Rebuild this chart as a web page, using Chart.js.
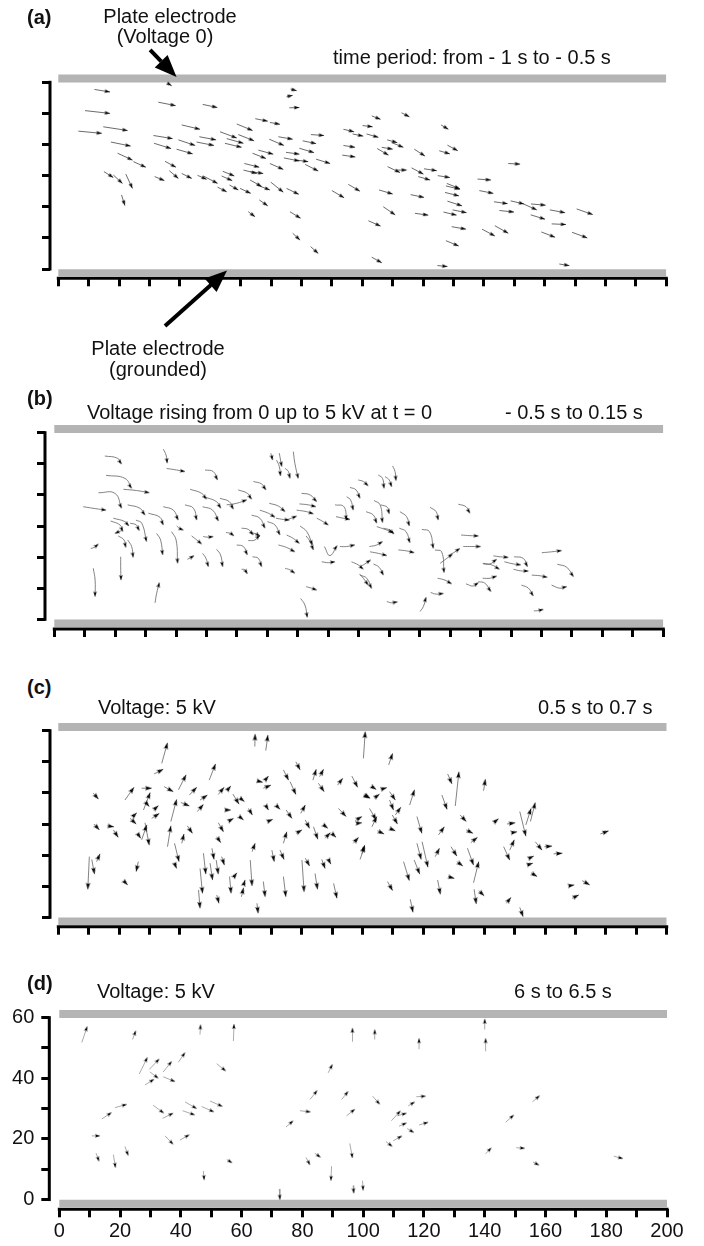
<!DOCTYPE html>
<html>
<head>
<meta charset="utf-8">
<script src="https://cdn.jsdelivr.net/npm/chart.js@4.4.1/dist/chart.umd.min.js"></script>
<style>
  html, body { margin: 0; padding: 0; background: #fff; }
  #page { position: relative; width: 704px; height: 1246px; overflow: hidden;
          font-family: "Liberation Sans", Arial, sans-serif; }
  canvas { position: absolute; left: 0; }
  .lbl { position: absolute; font-size: 20px; line-height: 20px; color: #111; white-space: nowrap; z-index: 2; }
  .tag { font-weight: bold; }
  .mid { transform: translateX(-50%); }
</style>
</head>
<body>
<div id="page">
  <canvas id="chartA" width="704" height="392" style="top:0px"></canvas>
  <canvas id="chartB" width="704" height="250" style="top:395px"></canvas>
  <canvas id="chartC" width="704" height="240" style="top:700px"></canvas>
  <canvas id="chartD" width="704" height="261" style="top:985px"></canvas>

  <div class="lbl tag" style="left:27px;top:7px">(a)</div>
  <div class="lbl mid" style="left:170px;top:6px">Plate electrode</div>
  <div class="lbl mid" style="left:165px;top:25.5px">(Voltage 0)</div>
  <div class="lbl" style="left:333px;top:47.2px">time period: from - 1 s to - 0.5 s</div>
  <div class="lbl mid" style="left:158px;top:337.6px">Plate electrode</div>
  <div class="lbl mid" style="left:158px;top:359px">(grounded)</div>

  <div class="lbl tag" style="left:27px;top:388px">(b)</div>
  <div class="lbl" style="left:87px;top:402.4px">Voltage rising from 0 up to 5 kV at t = 0</div>
  <div class="lbl" style="left:505px;top:402.4px">- 0.5 s to 0.15 s</div>

  <div class="lbl tag" style="left:27px;top:677px">(c)</div>
  <div class="lbl" style="left:98px;top:697.4px">Voltage: 5 kV</div>
  <div class="lbl" style="left:538px;top:696.6px">0.5 s to 0.7 s</div>

  <div class="lbl tag" style="left:27px;top:973px">(d)</div>
  <div class="lbl" style="left:97px;top:981px">Voltage: 5 kV</div>
  <div class="lbl" style="left:514px;top:981px">6 s to 6.5 s</div>
</div>
<script>
// axis labels (only panel d shows numbers)
const xTickLabels = [0, 20, 40, 60, 80, 100, 120, 140, 160, 180, 200];
const yTickLabels = [0, 20, 40, 60];

// plate electrodes (y position, data units)
const electrodeTop = 61.2;
const electrodeBottom = -1.3;

// callouts of panel a: [tailX, tailY, tipX, tipY]
const calloutArrows = [
  [30.2, 70.4, 38.9, 61.7],
  [35.1, -18.3, 55.5, -0.5]
];

// (a) -1 s to -0.5 s : [x0, y0, x1, y1]
const panelA = [
  [11.9,57.7,17.0,56.9],[35.9,59.7,37.3,58.9],[8.8,50.9,17.0,50.0],[32.9,53.6,38.6,52.5],
  [47.5,52.9,52.3,51.9],[76.4,57.8,78.4,57.3],[75.1,55.4,77.1,55.8],[76.0,51.8,79.3,51.9],
  [6.6,44.3,14.3,43.6],[14.8,45.7,22.8,44.5],[40.6,46.3,46.6,44.9],[58.7,46.6,63.9,44.5],
  [64.8,48.3,68.9,47.5],[69.6,47.1,72.9,46.5],[31.3,42.9,37.6,41.9],[39.5,41.5,45.0,39.7],
  [46.4,42.5,51.9,41.5],[53.2,44.1,58.7,42.1],[55.4,41.9,60.9,40.4],[54.8,40.4,60.3,39.1],
  [59.2,43.2,64.4,41.2],[17.3,40.8,23.8,39.5],[31.5,40.4,37.1,38.7],[45.5,40.8,51.2,39.7],
  [38.9,38.5,44.2,37.0],[19.5,37.2,24.4,35.0],[24.7,34.5,28.8,32.7],[35.1,34.6,38.7,32.7],
  [69.4,41.7,74.2,39.7],[72.4,42.5,77.1,41.7],[80.4,41.2,84.8,40.3],[83.1,43.2,87.4,42.9],
  [93.8,44.9,97.3,44.1],[96.8,43.4,100.3,42.7],[93.8,39.7,97.6,39.1],[93.4,36.6,97.7,36.0],
  [65.8,38.2,70.7,36.9],[63.9,37.2,68.3,35.5],[74.9,37.5,79.3,36.9],[74.2,35.7,79.3,34.7],
  [79.3,38.8,84.1,37.4],[78.4,35.0,82.2,34.5],[81.2,33.6,85.5,31.5],[84.8,35.3,89.4,33.9],
  [69.6,33.9,74.0,32.0],[61.2,33.9,66.1,32.7],[60.9,31.8,65.3,30.7],[63.1,31.3,67.4,30.7],
  [15.0,31.3,18.1,29.4],[18.1,30.2,21.1,27.5],[22.2,30.5,24.4,25.9],[20.8,23.8,21.9,20.4],
  [31.7,29.7,34.9,28.4],[36.5,31.6,39.5,29.1],[40.6,30.7,43.9,29.1],[45.8,30.1,48.8,28.8],
  [47.7,29.9,52.4,27.5],[54.1,31.4,57.9,29.9],[53.7,29.9,57.2,28.4],[52.4,26.3,55.4,24.8],
  [56.3,27.0,59.2,25.4],[59.8,25.9,63.3,24.3],[63.1,28.6,66.9,26.5],[65.3,27.0,69.6,25.4],
  [69.9,27.9,74.0,24.7],[75.1,25.9,79.1,24.0],[66.1,22.2,68.9,20.3],[62.5,18.4,64.7,16.8],
  [76.2,18.4,79.7,16.3],[77.1,11.5,79.5,9.3],[83.0,7.2,85.5,5.0],[90.0,25.2,94.0,22.9],
  [95.4,27.2,99.2,25.0],
  [103.1,49.2,106.0,48.1],[112.9,50.2,115.5,48.9],[100.1,46.1,103.4,45.7],[101.4,43.4,105.3,42.3],
  [125.9,46.3,128.3,44.9],[108.2,41.5,111.5,40.6],[109.7,40.6,113.5,39.1],[106.4,39.1,110.0,38.5],
  [104.9,38.7,108.6,36.6],[117.1,38.5,120.6,36.3],[125.3,38.0,128.8,37.0],[128.0,39.8,131.4,38.0],
  [148.0,33.9,151.9,33.7],[108.3,32.9,112.4,31.0],[111.3,31.8,114.6,31.8],[116.2,32.5,120.1,30.5],
  [120.3,32.2,124.5,31.6],[118.4,29.7,122.3,28.6],[124.8,30.0,128.8,29.4],[127.8,27.5,132.1,25.8],
  [127.5,26.7,132.1,25.6],[137.9,28.9,142.3,28.6],[105.5,25.4,110.0,24.1],[115.9,23.9,120.3,23.0],
  [127.2,24.6,131.8,23.5],[138.5,25.2,143.1,24.3],[128.0,21.8,132.8,20.3],[129.7,19.0,134.3,18.1],
  [126.7,18.3,131.0,17.3],[117.3,17.9,121.7,17.3],[106.9,20.0,110.8,17.4],[143.3,21.6,147.8,21.0],
  [145.1,18.8,149.9,18.3],[148.8,21.9,153.2,20.9],[153.0,20.9,157.4,19.0],[155.5,20.9,160.3,20.5],
  [155.4,17.4,160.1,16.0],[161.7,19.0,166.7,18.1],[170.5,19.3,175.8,17.5],[162.3,14.5,167.0,14.3],
  [129.4,13.6,134.1,12.8],[102.0,15.5,106.0,13.8],[139.4,12.8,143.6,10.6],[143.6,13.9,148.0,11.5],
  [158.9,11.9,163.4,10.2],[169.0,11.8,174.0,10.0],[127.5,9.1,131.7,7.4],[103.1,3.8,106.4,2.0],
  [124.7,1.1,128.0,0.8],[164.8,1.6,168.1,1.1]
];

// (b) -0.5 s to 0.15 s : curved tracks [x0, y0, xBend, yBend, x1, y1]
const panelB = [
  [16.6,52.5,20.7,51.8,22.1,49.9],[35.8,54.7,36.7,52.8,37.1,50.2],[36.9,48.5,40.2,48.0,42.9,47.5],
  [49.5,48.0,52.2,47.5,53.6,44.8],[17.0,46.3,23.2,45.3,25.4,42.1],[22.7,41.8,27.0,41.4,31.2,40.7],
  [14.5,40.7,19.9,40.5,22.1,35.7],[9.5,36.2,13.4,35.6,17.0,35.1],[24.1,36.8,28.1,35.7,29.8,33.5],
  [19.4,32.5,23.2,31.4,24.5,30.0],[18.5,31.6,21.6,30.3,22.5,28.2],[26.8,31.9,28.7,30.9,30.3,25.0],
  [24.9,30.9,27.0,30.3,27.9,28.5],[22.1,28.5,21.0,28.1,19.9,27.6],[21.0,26.8,22.9,25.5,23.5,23.1],
  [24.1,25.5,25.4,23.4,25.9,19.9],[30.9,34.1,34.7,32.8,35.8,30.3],[35.8,36.2,39.1,35.1,40.7,31.9],
  [33.6,27.6,34.9,25.5,35.6,20.7],[38.5,28.2,40.0,25.5,40.5,18.0],[40.2,30.0,41.3,29.1,42.4,28.7],
  [42.9,36.8,45.7,35.7,46.8,31.9],[44.6,41.8,48.4,40.5,50.0,38.6],[49.8,39.2,53.3,37.8,54.7,35.7],
  [48.7,36.2,52.0,35.1,53.9,31.6],[54.4,38.9,57.5,37.8,58.8,35.4],[60.4,41.6,63.4,40.5,64.8,38.6],
  [65.4,44.3,68.1,43.5,69.5,41.6],[56.6,36.8,59.9,37.3,63.2,38.4],[45.1,26.8,46.8,25.5,48.4,24.2],
  [48.9,26.6,50.6,26.4,52.2,26.6],[48.7,21.2,49.8,19.6,50.6,16.9],[53.3,22.5,54.6,20.7,55.3,16.9],
  [59.9,23.9,62.1,23.4,63.4,20.7],[61.5,16.1,62.6,15.9,63.4,14.6],[65.1,20.1,67.0,19.6,68.1,16.9],
  [56.4,27.9,58.0,27.6,59.0,26.8],[61.5,29.3,63.7,28.9,65.4,27.1],[64.3,27.9,66.5,27.4,67.5,26.6],
  [63.7,25.3,65.9,25.5,67.5,27.1],[64.8,33.5,67.5,32.5,69.2,29.3],[67.5,35.1,70.3,34.1,72.5,32.8],
  [71.1,53.4,71.4,52.3,71.7,51.2],[73.9,53.4,74.3,51.2,74.7,49.1],[73.0,51.2,73.9,49.1,74.3,46.1],
  [75.8,48.5,76.9,47.5,77.4,45.3],[78.5,53.9,79.0,50.2,80.1,45.3],[70.6,37.3,73.6,36.4,75.8,34.6],
  [72.8,32.5,75.2,32.1,77.2,31.9],[75.8,31.9,77.9,32.5,79.6,33.2],[70.0,31.4,72.5,30.3,74.1,27.1],
  [76.3,27.1,78.5,26.0,80.5,24.4],[80.7,30.0,82.9,28.2,84.8,23.9],[73.6,23.9,76.3,23.1,79.0,21.7],
  [75.8,16.4,77.4,15.9,79.0,14.8],[81.2,40.5,84.0,40.0,86.2,37.8],[80.5,37.1,83.4,36.8,85.9,36.2],
  [79.6,35.1,82.9,34.6,85.1,33.9],[82.7,26.8,84.0,25.0,85.1,22.3],[86.2,32.5,88.3,31.4,90.0,30.3],
  [88.7,23.4,90.5,20.5,92.9,23.7],[93.8,23.4,96.0,23.4,98.7,23.9],[87.8,18.5,90.0,18.2,92.2,18.5],
  [92.2,36.8,95.1,36.2,96.0,31.9],[96.0,39.4,97.3,38.4,98.2,35.1],[92.5,33.0,94.9,32.5,97.1,32.1],
  [97.1,42.4,99.1,41.6,100.4,38.9],[99.8,44.8,101.5,44.3,103.1,42.9],[97.6,18.5,99.8,17.5,101.5,16.1],
  [100.2,14.6,101.5,13.2,103.1,11.0],[12.0,22.8,13.1,23.1,14.5,24.2],[12.8,16.4,13.4,12.6,13.4,7.3],
  [21.8,20.1,21.8,16.9,21.9,12.6],[33.1,5.3,33.6,8.3,34.5,11.8],[43.7,19.3,44.8,19.8,45.9,20.5],
  [82.7,10.5,84.5,10.0,86.2,9.4],[80.9,6.7,82.3,4.6,83.1,0.6],
  [106.4,46.4,107.8,45.3,108.3,42.1],[108.6,45.9,110.0,44.8,110.8,42.6],[111.1,49.3,111.9,47.5,112.2,44.6],
  [105.0,38.2,107.0,36.8,107.8,31.1],[102.4,34.6,104.8,33.5,105.9,30.9],[107.2,36.8,109.4,36.0,110.0,33.9],
  [113.5,34.6,115.7,33.0,116.6,30.0],[123.4,36.0,125.4,34.6,126.1,31.9],[132.7,37.0,135.2,36.2,136.5,34.1],
  [113.3,29.3,115.5,28.2,116.8,24.6],[105.9,29.8,108.6,28.9,111.3,27.9],[108.1,29.3,110.2,28.7,111.6,27.4],
  [120.7,28.9,123.2,28.2,124.5,22.8],[125.0,22.3,127.2,21.7,128.0,15.0],[133.6,27.1,136.5,26.9,139.3,26.8],
  [134.3,23.4,137.1,23.4,140.0,23.4],[103.5,23.4,105.9,23.9,107.8,25.0],[103.7,21.7,106.4,21.2,109.2,20.5],
  [113.0,22.3,115.7,22.0,118.2,21.4],[129.7,20.7,131.6,21.7,133.2,22.8],[126.7,18.0,128.9,19.6,130.8,21.0],
  [100.4,16.9,102.0,17.8,103.9,19.1],[104.8,17.8,106.7,16.7,108.1,14.2],[100.4,14.2,102.6,13.2,104.2,9.9],
  [125.9,13.2,128.3,12.6,130.5,11.4],[135.2,11.4,137.6,10.7,139.3,11.8],[139.3,12.1,141.4,11.6,143.4,8.9],
  [123.6,8.6,125.4,8.1,127.8,8.3],[109.2,5.7,110.8,5.3,112.7,5.6],[120.1,2.5,121.2,4.1,122.1,7.1],
  [144.2,20.4,146.4,20.1,149.1,19.9],[140.9,17.8,143.1,17.8,145.3,19.3],[140.7,18.0,143.6,17.5,146.2,16.1],
  [147.8,18.5,150.8,17.8,153.2,17.5],[151.0,20.1,154.0,19.6,155.4,16.9],[150.8,16.1,153.0,15.6,155.7,15.5],
  [156.8,14.2,159.5,14.0,161.9,13.5],[140.7,13.2,143.1,13.2,145.3,13.9],[153.4,11.0,155.7,10.0,157.3,7.5],
  [160.1,21.4,163.3,21.7,166.6,22.1],[165.2,17.7,168.3,16.7,170.5,13.7],[163.3,11.0,166.1,10.0,168.3,10.5],
  [157.5,2.7,159.0,2.8,160.6,3.2]
];

// (c) 0.5 s to 0.7 s : [x0, y0, x1, y1]
const panelC = [
  [11.5,39.9,13.2,38.0],[34.0,49.5,35.9,56.1],[31.5,46.1,34.5,47.6],[64.6,54.9,64.7,58.9],
  [68.2,53.6,68.9,58.6],[100.3,51.1,100.9,59.7],[49.6,44.1,51.7,49.3],[39.5,41.0,42.0,45.8],
  [21.9,37.7,24.9,41.8],[27.4,41.5,30.7,41.5],[28.0,34.5,30.2,40.1],[34.8,42.0,37.8,40.4],
  [43.1,39.3,45.5,41.8],[46.6,37.7,49.0,39.3],[52.6,39.5,54.5,41.8],[55.4,40.7,56.7,42.2],
  [57.4,39.6,59.4,36.4],[59.8,38.3,61.2,37.2],[45.7,34.0,47.7,36.3],[37.0,30.8,38.9,37.9],
  [40.3,36.9,43.1,35.8],[65.3,43.9,67.2,43.4],[68.0,44.1,69.1,45.4],[67.4,41.5,69.9,42.5],
  [74.0,47.4,75.7,44.1],[76.2,43.6,78.1,39.5],[78.1,50.0,79.5,47.4],[83.7,44.1,84.8,47.6],
  [85.9,45.2,87.2,47.6],[85.5,43.1,87.4,40.4],[91.8,42.5,93.5,44.7],[96.5,45.4,98.4,41.8],
  [100.9,39.3,102.5,38.3],[24.5,32.4,25.8,33.6],[23.6,31.8,25.6,30.0],[28.5,37.2,29.9,35.6],
  [31.3,34.5,32.9,35.9],[30.7,31.8,33.2,33.4],[27.4,24.9,29.1,29.7],[28.5,30.4,29.9,23.2],
  [26.0,27.0,27.1,25.4],[11.7,30.0,13.5,28.1],[16.1,29.4,18.3,29.1],[18.1,28.1,19.7,25.7],
  [35.9,22.7,37.0,29.4],[40.6,23.8,41.3,26.8],[42.4,29.4,44.1,27.0],[38.2,23.8,39.7,17.9],
  [38.1,17.6,38.9,15.7],[11.0,18.6,11.9,13.9],[10.2,19.5,9.7,9.0],[12.6,17.9,13.7,20.4],
  [21.4,11.8,22.8,10.4],[26.3,17.9,25.6,14.7],[54.8,34.5,56.7,34.5],[56.3,31.1,57.6,31.8],
  [59.5,32.4,60.9,31.3],[62.5,35.0,63.8,32.9],[52.6,30.4,54.3,27.5],[52.1,25.9,53.4,24.0],
  [50.5,22.2,51.2,18.6],[53.7,19.5,54.6,16.8],[51.9,18.4,52.6,13.9],[49.9,17.4,50.7,12.0],
  [47.7,20.6,48.5,13.9],[46.6,15.7,47.4,7.7],[46.1,8.8,46.6,2.9],[52.1,7.2,52.8,4.5],
  [56.3,13.1,56.8,7.7],[57.8,13.1,58.7,14.3],[60.2,6.6,60.9,9.5],[60.9,10.4,61.4,12.0],
  [63.1,18.4,63.7,10.1],[63.7,21.1,64.7,23.8],[67.4,11.5,68.0,6.6],[65.3,4.5,65.7,1.3],
  [68.3,35.8,69.1,34.5],[68.8,30.8,70.5,31.5],[71.8,35.8,72.9,34.7],[74.9,34.5,76.8,31.8],
  [79.7,33.4,81.2,36.1],[81.2,31.3,82.6,28.6],[74.0,23.8,75.1,27.5],[78.2,27.0,80.1,28.1],
  [83.9,29.1,85.3,25.1],[87.2,29.7,88.6,28.6],[87.7,25.4,89.4,27.2],[89.9,27.0,91.3,25.7],
  [70.2,21.6,71.0,17.9],[72.9,21.6,74.2,18.6],[81.2,19.0,82.6,16.5],[80.1,18.4,80.8,8.2],
  [86.6,18.6,87.7,15.7],[88.8,18.6,89.6,17.1],[74.0,13.1,74.8,6.6],[84.4,14.1,85.2,9.0],
  [90.5,10.9,91.6,6.1],[92.1,35.0,94.6,32.4],[97.6,31.1,99.8,32.4],[98.1,30.2,99.8,30.4],
  [97.0,23.8,98.7,25.7],[99.2,18.6,100.7,22.9],
  [108.6,49.0,109.9,52.7],[130.5,35.8,131.7,46.8],[128.0,46.1,129.4,42.9],[139.8,40.7,140.4,44.4],
  [103.1,42.0,104.5,41.1],[106.0,41.1,108.0,41.7],[100.3,39.3,102.3,38.3],[103.8,38.3,105.6,39.6],
  [108.9,40.4,110.8,37.7],[108.9,37.7,110.2,34.5],[115.5,36.1,117.1,41.0],[110.8,32.9,112.6,35.4],
  [102.3,35.0,104.5,31.3],[103.1,29.1,104.7,32.4],[109.8,32.9,111.5,30.0],[104.9,27.8,107.1,26.8],
  [108.9,28.6,110.8,27.8],[99.8,20.4,100.7,23.2],[117.9,32.4,119.5,27.0],[125.0,26.5,126.9,29.1],
  [126.1,39.3,127.8,34.7],[132.1,32.9,134.1,30.8],[134.1,28.1,136.3,27.0],[135.6,24.0,137.8,25.7],
  [117.9,23.8,119.3,18.6],[119.6,24.3,121.5,16.1],[123.9,19.5,125.3,22.2],[129.1,22.7,131.0,19.7],
  [131.0,17.9,133.0,16.5],[134.5,22.2,136.5,16.8],[136.5,11.1,138.2,17.9],[128.1,13.1,130.2,12.5],
  [113.5,17.9,115.4,11.8],[117.0,18.4,118.8,13.9],[108.2,11.5,109.9,8.6],[124.7,12.0,125.6,7.4],
  [115.7,5.8,116.6,1.6],[136.7,9.0,137.4,4.3],[138.2,8.6,140.0,6.9],[147.3,4.5,148.8,6.4],
  [151.7,3.2,152.8,0.2],[143.1,30.4,144.7,31.7],[147.5,30.0,150.2,30.4],[149.1,27.2,150.8,27.5],
  [151.7,34.0,153.7,26.1],[153.7,29.7,155.4,35.0],[155.2,30.8,156.8,36.9],[148.4,21.6,149.9,24.9],
  [146.4,22.7,148.4,18.4],[154.1,16.8,156.0,17.4],[154.6,18.9,156.3,19.7],[155.4,14.3,157.4,13.1],
  [156.8,24.3,159.0,21.6],[159.8,22.7,162.3,22.9],[162.8,20.4,165.7,20.6],[167.8,10.1,169.6,10.4],
  [168.9,6.1,171.1,7.2],[172.2,11.8,174.7,10.4],[178.2,26.8,180.9,27.8]
];

// (d) 6 s to 6.5 s : [x0, y0, x1, y1]
const panelD = [
  [7.4,51.8,9.2,57.1],[24.1,52.8,25.2,55.7],[46.3,54.4,46.5,57.7],[57.3,52.3,57.5,57.9],
  [26.3,41.4,29.0,46.9],[29.6,42.9,32.9,46.4],[34.2,42.1,37.0,45.6],[39.2,45.3,41.4,48.5],
  [28.2,37.8,31.2,39.7],[29.8,42.1,32.6,40.0],[34.2,40.5,38.1,38.9],[51.8,44.8,54.8,42.4],
  [88.5,41.8,89.9,44.6],[82.5,33.0,84.9,36.0],[92.9,33.0,95.1,35.7],[94.5,27.6,97.3,29.8],
  [79.2,29.3,82.7,28.9],[74.6,23.9,77.0,26.0],[14.0,26.6,17.2,28.7],[18.3,30.3,22.2,31.4],
  [10.7,21.0,13.4,21.0],[30.9,31.1,34.4,28.5],[34.0,26.8,37.5,28.5],[41.4,32.2,45.2,30.0],
  [40.6,29.3,44.6,27.9],[46.8,30.7,50.9,28.9],[49.6,32.5,53.7,30.7],[34.8,21.0,37.5,18.2],
  [39.7,19.6,42.8,21.4],[12.1,15.3,13.1,12.6],[17.8,14.8,18.5,10.5],[21.6,17.5,22.7,14.5],
  [47.4,9.4,47.7,6.4],[55.1,13.2,56.9,12.1],[81.2,13.9,82.5,11.4],[84.1,15.3,86.0,13.9],
  [89.6,11.0,89.4,6.2],[95.6,18.5,96.5,13.7],[96.7,4.6,96.9,2.1],[99.8,6.2,100.0,3.0],
  [72.4,3.5,72.6,0.0],[96.4,52.1,96.5,56.6],
  [103.8,52.8,103.8,56.1],[118.4,49.6,118.4,53.2],[140.0,56.1,140.0,59.6],[140.3,48.9,140.3,53.2],
  [103.1,34.1,105.5,31.4],[117.5,33.9,120.6,34.1],[114.8,30.9,117.0,32.2],[109.3,26.0,112.3,29.3],
  [111.2,27.6,114.3,28.5],[111.8,24.2,114.3,25.3],[118.4,24.6,121.4,25.5],[114.5,23.4,116.7,22.1],
  [109.9,19.4,112.8,21.0],[107.5,19.1,109.6,17.5],[146.9,25.5,149.6,27.9],[155.7,32.2,158.1,34.3],
  [140.3,15.1,142.2,17.1],[150.4,17.1,153.2,16.9],[155.9,12.4,157.9,11.3],[182.5,14.3,185.5,13.5]
];

// page geometry of each panel (pixels)
const layouts = {
  A: { id: 'chartA', top: 0,   height: 392, axisX: 50,   x0: 58.3, x200: 666.3, y60: 82.3,   y0: 269,    xAxis: 278.3,  labels: false, head: [5.5, 1.8], track: 'rgba(70,70,70,0.8)',    tension: 0 },
  B: { id: 'chartB', top: 395, height: 250, axisX: 45,   x0: 54.3, x200: 663.3, y60: 432.7,  y0: 619.3,  xAxis: 629,    labels: false, head: [5, 1.8],   track: 'rgba(90,90,90,0.75)',   tension: 0.45 },
  C: { id: 'chartC', top: 700, height: 240, axisX: 50,   x0: 58.3, x200: 666.7, y60: 730.7,  y0: 917.3,  xAxis: 926.7,  labels: false, head: [6.5, 2.2], track: 'rgba(90,90,90,0.75)',   tension: 0 },
  D: { id: 'chartD', top: 985, height: 261, axisX: 49.3, x0: 59.3, x200: 667,   y60: 1012.7, y0: 1199.3, xAxis: 1209.3, labels: true,  head: [5, 1.7],   track: 'rgba(150,150,150,0.8)', tension: 0 }
};

function makeHead(len, half) {
  const s = Math.ceil(len * 2 + 4);
  const c = document.createElement('canvas');
  c.width = s; c.height = s;
  const g = c.getContext('2d');
  g.fillStyle = '#000';
  g.beginPath();
  g.moveTo(s / 2, s / 2);
  g.lineTo(s / 2 + half, s / 2 + len);
  g.lineTo(s / 2, s / 2 + len * 0.8);
  g.lineTo(s / 2 - half, s / 2 + len);
  g.closePath();
  g.fill();
  return c;
}

function headAngle(ctx) {
  const p = ctx.raw;
  if (!p || p.fx === undefined) return 0;
  const sx = ctx.chart.scales.x, sy = ctx.chart.scales.y;
  const dx = sx.getPixelForValue(p.x) - sx.getPixelForValue(p.fx);
  const dy = sy.getPixelForValue(p.y) - sy.getPixelForValue(p.fy);
  return Math.atan2(dx, -dy) * 180 / Math.PI;
}

const calloutPlugin = {
  id: 'callouts',
  afterDraw(chart, args, opts) {
    if (!opts.arrows) return;
    const g = chart.ctx, sx = chart.scales.x, sy = chart.scales.y;
    opts.arrows.forEach(a => {
      const x0 = sx.getPixelForValue(a[0]), y0 = sy.getPixelForValue(a[1]);
      const x1 = sx.getPixelForValue(a[2]), y1 = sy.getPixelForValue(a[3]);
      const ang = Math.atan2(y1 - y0, x1 - x0);
      const hl = 22, hw = 9;
      const bx = x1 - Math.cos(ang) * hl, by = y1 - Math.sin(ang) * hl;
      g.save();
      g.strokeStyle = '#000';
      g.fillStyle = '#000';
      g.lineWidth = 4;
      g.beginPath();
      g.moveTo(x0, y0);
      g.lineTo(bx, by);
      g.stroke();
      g.beginPath();
      g.moveTo(x1, y1);
      g.lineTo(bx + Math.sin(ang) * hw, by - Math.cos(ang) * hw);
      g.lineTo(bx - Math.sin(ang) * hw, by + Math.cos(ang) * hw);
      g.closePath();
      g.fill();
      g.restore();
    });
  }
};

function buildPanel(L, tracks, callouts) {
  const sx = (L.x200 - L.x0) / 200;
  const sy = (L.y0 - L.y60) / 60;
  const xMin = -(L.x0 - L.axisX) / sx;
  const yMin = -(L.xAxis - L.y0) / sy;
  const areaTop = L.y60 - 14;
  const yMax = 60 + 14 / sy;
  const xAxisH = L.labels ? 34 : 10;

  const line = [], heads = [];
  tracks.forEach(t => {
    const n = t.length;
    for (let i = 0; i < n; i += 2) line.push({x: t[i], y: t[i + 1]});
    line.push({x: t[n - 2], y: null});
    heads.push({x: t[n - 2], y: t[n - 1], fx: t[n - 4], fy: t[n - 3]});
  });

  const tickFont = {family: '"Liberation Sans", Arial, sans-serif', size: 20};

  new Chart(document.getElementById(L.id), {
    type: 'scatter',
    data: {
      datasets: [{
        data: heads,
        pointStyle: makeHead(L.head[0], L.head[1]),
        pointRadius: 3,
        pointHoverRadius: 3,
        pointRotation: headAngle,
        order: 0
      }, {
        data: line,
        showLine: true,
        spanGaps: false,
        tension: L.tension,
        borderColor: L.track,
        borderWidth: 1,
        pointRadius: 0,
        order: 1
      }, {
        data: [{x: 0, y: electrodeTop}, {x: 200, y: electrodeTop}],
        showLine: true,
        borderColor: '#b4b4b4',
        borderWidth: 8,
        borderCapStyle: 'butt',
        pointRadius: 0,
        order: 2
      }, {
        data: [{x: 0, y: electrodeBottom}, {x: 200, y: electrodeBottom}],
        showLine: true,
        borderColor: '#b4b4b4',
        borderWidth: 7.5,
        borderCapStyle: 'butt',
        pointRadius: 0,
        order: 2
      }, {
        data: [{x: 0, y: yMin}, {x: 200, y: yMin}],
        showLine: true,
        borderColor: '#000',
        borderWidth: 3,
        borderCapStyle: 'square',
        pointRadius: 0,
        clip: false,
        order: 3
      }, {
        data: [{x: xMin, y: 0}, {x: xMin, y: 60}],
        showLine: true,
        borderColor: '#000',
        borderWidth: 3,
        borderCapStyle: 'square',
        pointRadius: 0,
        clip: false,
        order: 3
      }]
    },
    options: {
      responsive: false,
      animation: false,
      events: [],
      layout: {
        padding: {
          left: 0,
          right: 704 - L.x200,
          top: areaTop - L.top,
          bottom: L.top + L.height - L.xAxis - xAxisH
        }
      },
      plugins: {
        legend: {display: false},
        tooltip: {enabled: false},
        callouts: {arrows: callouts}
      },
      scales: {
        x: {
          type: 'linear',
          min: xMin,
          max: 200,
          afterFit: s => { s.height = xAxisH; },
          border: {display: false},
          grid: {display: true, drawOnChartArea: false, drawTicks: true, tickLength: 8, tickWidth: 3, tickColor: '#000', color: '#000'},
          ticks: {
            stepSize: 10,
            includeBounds: false,
            autoSkip: false,
            maxRotation: 0,
            display: L.labels,
            padding: 2,
            color: '#111',
            font: tickFont,
            callback: v => xTickLabels.includes(v) ? String(v) : ''
          }
        },
        y: {
          type: 'linear',
          min: yMin,
          max: yMax,
          afterFit: s => { s.width = L.axisX; },
          border: {display: false},
          grid: {display: true, drawOnChartArea: false, drawTicks: true, tickLength: 8, tickWidth: 3, tickColor: '#000', color: '#000'},
          ticks: {
            stepSize: 10,
            includeBounds: false,
            autoSkip: false,
            display: L.labels,
            padding: 7,
            color: '#111',
            font: tickFont,
            callback: v => yTickLabels.includes(v) ? String(v) : ''
          }
        }
      }
    },
    plugins: [calloutPlugin]
  });
}

buildPanel(layouts.A, panelA, calloutArrows);
buildPanel(layouts.B, panelB, null);
buildPanel(layouts.C, panelC, null);
buildPanel(layouts.D, panelD, null);
</script>
</body>
</html>
